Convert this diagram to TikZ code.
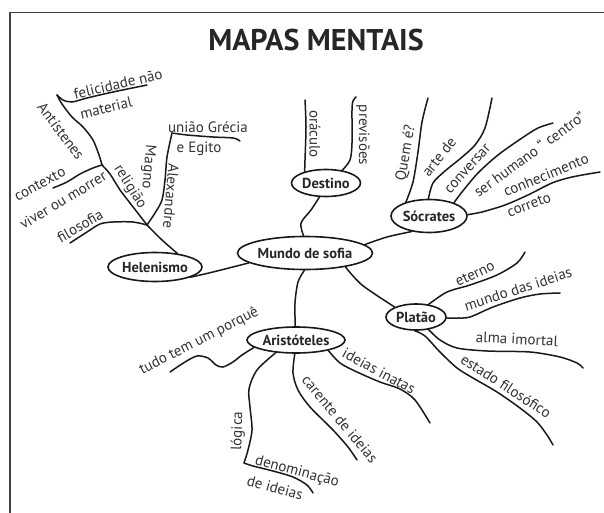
\documentclass[tikz,border=0pt]{standalone}
\usepackage{fontspec}
\setmainfont{PT Sans}
\usetikzlibrary{shapes.geometric}
\begin{document}
\begin{tikzpicture}[x=1pt,y=-1pt,
  topic/.style={ellipse, draw=black!90, line width=1.6pt, inner sep=0pt},
  topictext/.style={inner sep=0pt, font=\fontsize{14.5}{15}\selectfont\bfseries, text=black!85},
  lbl/.style={inner sep=0pt, font=\fontsize{15}{15}\selectfont, text=black!80},
  branch/.style={line width=1.5pt, line cap=round, draw=black!90},
  frame/.style={line width=1.8pt, draw=black!75}]
\useasboundingbox (0,0) rectangle (604,513);
\draw[frame] (10,513) -- (10,12.5) -- (604,12.5);
\node[font=\fontsize{30}{30}\selectfont\bfseries, text=black!85, inner sep=0pt] (title) at (316,40) {MAPAS MENTAIS};

% main nodes
\node[topic, minimum width=135pt, minimum height=33pt, label={[topictext]center:Mundo de sofia}] (mundo) at (305,253) {};
\node[topic, minimum width=94pt, minimum height=29pt, label={[topictext]center:Helenismo}] (helen) at (155,267) {};
\node[topic, minimum width=69pt, minimum height=27pt, label={[topictext]center:Destino}] (destino) at (326,183) {};
\node[topic, minimum width=76pt, minimum height=33pt, label={[topictext]center:Sócrates}] (socr) at (429,216) {};
\node[topic, minimum width=60pt, minimum height=26pt, label={[topictext]center:Platão}] (platao) at (416,317) {};
\node[topic, minimum width=98pt, minimum height=26pt, label={[topictext]center:Aristóteles}] (arist) at (296,340) {};

% links between main nodes
\draw[branch] plot[smooth] coordinates {(helen.344) (213,272) (mundo.190)};
\draw[branch] plot[smooth] coordinates {(destino.245) (311,210) (301,223) (mundo.95)};
\draw[branch] plot[smooth] coordinates {(socr.222) (387,237) (mundo.8)};
\draw[branch] plot[smooth] coordinates {(mundo.341) (362,285) (platao.155)};
\draw[branch] plot[smooth] coordinates {(mundo.268) (298,282) (295,303) (arist.93)};

% Helenismo
\coordinate (hj1) at (147,225);
\coordinate (hj2) at (102,165);
\coordinate (hfil) at (70,243);
\coordinate (hant) at (57,95);
\coordinate (hfel) at (147,85);
\coordinate (hctx) at (53,188);
\coordinate (halx) at (172,133);
\coordinate (huni) at (240,141);
\draw[branch] plot[smooth] coordinates {(helen.31) (162,240) (hj1)};
\draw[branch] plot[smooth] coordinates {(hj1) (133,222) (113,222) (100,224) (87,232) (hfil)};
\draw[branch] plot[smooth] coordinates {(hj1) (130,203) (120,190) (110,174) (hj2)};
\draw[branch] plot[smooth] coordinates {(hj1) (155,213) (162,200) (165,180) (167,157) (halx)};
\draw[branch] plot[smooth] coordinates {(halx) (187,135) (213,137) (233,138) (huni)};
\draw[branch] plot[smooth] coordinates {(hj2) (99,155) (93,140) (83,127) (72,117) (62,104) (hant)};
\draw[branch] plot[smooth] coordinates {(hant) (63,100) (72,102) (87,98) (113,92) (hfel)};
\draw[branch] plot[smooth] coordinates {(hj2) (93,168) (80,174) (67,182) (hctx)};
\node[lbl, rotate=13] (tfel) at (118,84) {felicidade não};
\node[lbl, rotate=14] (tmat) at (106,108) {material};
\node[lbl, rotate=-53] (tant) at (61,131) {Antístenes};
\node[lbl, rotate=-58] (trel) at (130,187) {religião};
\node[lbl, rotate=-95] (tmag) at (148,167) {Magno};
\node[lbl, rotate=-95] (talx) at (171,196) {Alexandre};
\node[lbl] (tuni) at (208,127) {união Grécia};
\node[lbl] (tegi) at (199,149) {e Egito};
\node[lbl, rotate=28] (tctx) at (40,184) {contexto};
\node[lbl, rotate=31] (tviv) at (63,200) {viver ou morrer};
\node[lbl, rotate=30] (tfil) at (80,226) {filosofia};

% Destino
\coordinate (dora) at (305,100);
\coordinate (dpre) at (356,97);
\draw[branch] plot[smooth] coordinates {(destino.152) (305,160) (306,127) (dora)};
\draw[branch] plot[smooth] coordinates {(destino.38) (350,160) (352,143) (352,110) (353,101) (dpre)};
\node[lbl, rotate=-90] (tora) at (315,134) {oráculo};
\node[lbl, rotate=-90] (tpre) at (363,135) {previsões};

% Socrates
\coordinate (squem) at (428,98);
\coordinate (sarte) at (492,98);
\coordinate (sser) at (553,123);
\coordinate (scon) at (600,172);
\draw[branch] plot[smooth] coordinates {(socr.149) (413,182) (418,152) (422,122) (squem)};
\draw[branch] plot[smooth] coordinates {(socr.92) (433,183) (445,171) (461,158) (475,145) (485,128) (sarte)};
\draw[branch] plot[smooth] coordinates {(socr.28) (462,192) (478,173) (498,155) (522,138) (538,128) (sser)};
\draw[branch] plot[smooth] coordinates {(socr.2) (482,212) (505,205) (528,195) (552,183) (572,177) (scon)};
\node[lbl, rotate=80] (tquem) at (406,153) {Quem é?};
\node[lbl, rotate=52] (tarte) at (439,157) {arte de};
\node[lbl, rotate=48] (tconv) at (468,169) {conversar};
\node[lbl, rotate=36] (tser) at (529,154) {ser humano “ centro”};
\node[lbl, rotate=22] (tconh) at (546,175) {conhecimento};
\node[lbl, rotate=20] (tcor) at (529,205) {correto};

% Platao
\coordinate (pete) at (525,252);
\coordinate (pmun) at (560,293);
\coordinate (palm) at (583,368);
\coordinate (pest) at (553,445);
\draw[branch] plot[smooth] coordinates {(platao.45) (447,292) (470,285) (497,275) (517,263) (pete)};
\draw[branch] plot[smooth] coordinates {(platao.-2) (457,318) (470,317) (493,307) (520,298) (540,294) (pmun)};
\draw[branch] plot[smooth] coordinates {(platao.315) (440,340) (457,348) (487,351) (530,352) (560,357) (577,363) (palm)};
\draw[branch] plot[smooth] coordinates {(platao.265) (425,336) (440,352) (457,368) (473,378) (497,392) (520,408) (537,422) (547,435) (pest)};
\node[lbl, rotate=25] (tete) at (475,274) {eterno};
\node[lbl, rotate=18] (tmun) at (518,289) {mundo das ideias};
\node[lbl, rotate=-3] (talm) at (517,339) {alma imortal};
\node[lbl, rotate=-33] (test) at (506,386) {estado filosófico};

% Aristoteles
\coordinate (atud) at (170,372);
\coordinate (aide) at (430,423);
\coordinate (acar) at (357,460);
\coordinate (alog) at (244,463);
\coordinate (aden) at (313,493);
\draw[branch] plot[smooth] coordinates {(arist.190) (242,355) (233,362) (223,367) (216,365) (208,358) (197,356) (185,362) (atud)};
\draw[branch] plot[smooth] coordinates {(arist.342) (340,363) (357,372) (380,382) (400,389) (415,400) (aide)};
\draw[branch] plot[smooth] coordinates {(arist.265) (293,373) (298,390) (310,407) (333,430) (348,447) (acar)};
\draw[branch] plot[smooth] coordinates {(arist.212) (257,370) (249,389) (250,407) (252,430) (248,450) (alog)};
\draw[branch] plot[smooth] coordinates {(alog) (253,466) (273,471) (293,477) (307,485) (aden)};
\node[lbl, rotate=27] (ttud) at (199,341) {tudo tem um porquê};
\node[lbl, rotate=-28] (tide) at (379,371) {ideias inatas};
\node[lbl, rotate=-50] (tcar) at (340,419) {carente de ideias};
\node[lbl, rotate=88] (tlog) at (238,431) {lógica};
\node[lbl, rotate=-15] (tden) at (297,472) {denominação};
\node[lbl, rotate=-15] (tdei) at (275,488) {de ideias};
\end{tikzpicture}
\end{document}
